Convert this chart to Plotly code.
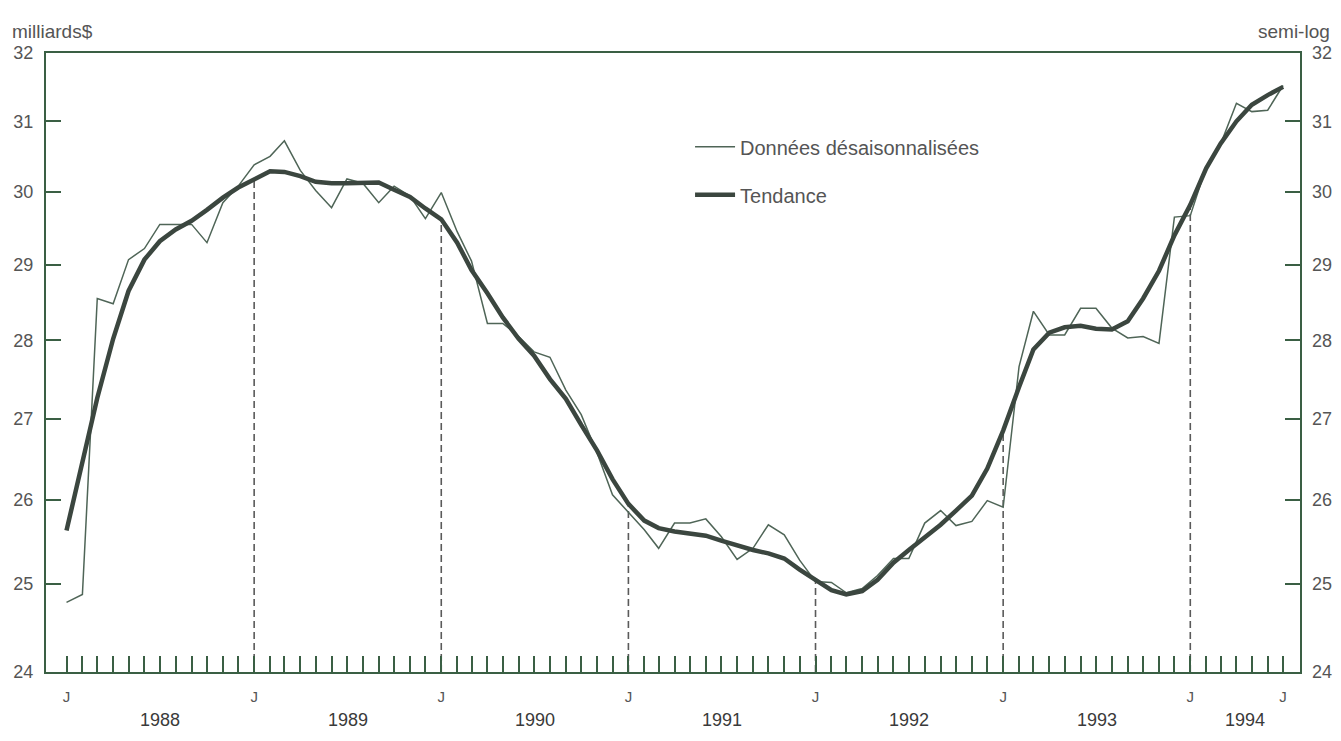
import math
import pandas as pd
import plotly.graph_objects as go

# ---------------- data (monthly, Jan 1988 - Jul 1994) ----------------
months = pd.date_range("1988-01-01", "1994-07-01", freq="MS")

raw = [24.79, 24.88, 28.55, 28.48, 29.07, 29.22, 29.55, 29.55, 29.55, 29.30, 29.85, 30.08,
       30.38, 30.50, 30.72, 30.30, 30.02, 29.78, 30.18, 30.12, 29.85, 30.08, 29.94, 29.63,
       29.99, 29.45, 29.05, 28.22, 28.22, 28.05, 27.85, 27.78, 27.36, 27.05, 26.57, 26.06,
       25.85, 25.64, 25.42, 25.72, 25.72, 25.77, 25.56, 25.29, 25.42, 25.70, 25.58, 25.28,
       25.03, 25.02, 24.90, 24.95, 25.10, 25.30, 25.30, 25.72, 25.87, 25.69, 25.74, 25.99,
       25.91, 27.66, 28.38, 28.07, 28.07, 28.42, 28.42, 28.16, 28.03, 28.05, 27.96, 29.65,
       29.67, 30.35, 30.67, 31.26, 31.14, 31.16, 31.52]

trend = [25.63, 26.44, 27.26, 28.02, 28.65, 29.07, 29.32, 29.48, 29.60, 29.75, 29.92, 30.06,
         30.18, 30.29, 30.28, 30.22, 30.14, 30.12, 30.12, 30.13, 30.13, 30.03, 29.93, 29.77,
         29.62, 29.30, 28.93, 28.62, 28.30, 28.02, 27.80, 27.50, 27.25, 26.92, 26.60, 26.25,
         25.95, 25.75, 25.66, 25.62, 25.59, 25.57, 25.51, 25.45, 25.40, 25.36, 25.30, 25.17,
         25.05, 24.93, 24.88, 24.92, 25.05, 25.25, 25.40, 25.55, 25.70, 25.87, 26.05, 26.38,
         26.85, 27.40, 27.88, 28.10, 28.17, 28.19, 28.15, 28.14, 28.25, 28.55, 28.92, 29.40,
         29.82, 30.33, 30.68, 31.00, 31.24, 31.38, 31.50]

year_labels = ["1988", "1989", "1990", "1991", "1992", "1993", "1994"]
j_tick_dates = ["1988-01-01", "1989-01-01", "1990-01-01", "1991-01-01", "1992-01-01",
                "1993-01-01", "1994-01-01", "1994-07-01"]
j_tick_text = ["J", "J", "J", "J", "J", "J", "J", "J"]
dashed_dates = ["1989-01-01", "1990-01-01", "1991-01-01", "1992-01-01", "1993-01-01", "1994-01-01"]
y_ticks = [24, 25, 26, 27, 28, 29, 30, 31, 32]
legend_names = ["Données désaisonnalisées", "Tendance"]

# ---------------- styling ----------------
X_START, X_END = "1987-11-22", "1994-08-03"
AXIS_COLOR = "#3a5f44"
TEXT_COLOR = "#555555"
RAW_COLOR = "#4f6557"
TREND_COLOR = "#3b463f"
FONT = "Liberation Sans, Arial, sans-serif"

fig = go.Figure()

# dashed reference lines from the axis floor up to the trend at each January
trend_s = pd.Series(trend, index=months)
dx, dy = [], []
for d in dashed_dates:
    ts = pd.Timestamp(d)
    dx += [ts, ts, None]
    dy += [y_ticks[0], trend_s[ts], None]
fig.add_trace(go.Scatter(x=dx, y=dy, mode="lines", showlegend=False, hoverinfo="skip",
                         line=dict(color="#5a5a5a", width=1.6, dash="7px,4px")))

fig.add_trace(go.Scatter(x=months, y=raw, mode="lines", name=legend_names[0],
                         legendgroup="a", line=dict(color=RAW_COLOR, width=1.5)))
fig.add_trace(go.Scatter(x=months, y=trend, mode="lines", name=legend_names[1],
                         legendgroup="b", line=dict(color=TREND_COLOR, width=4.5)))
# invisible trace carrying the right-hand axis
fig.add_trace(go.Scatter(x=months, y=trend, mode="lines", yaxis="y2", showlegend=False,
                         hoverinfo="skip", line=dict(width=0), opacity=0))

yr = [math.log10(y_ticks[0]), math.log10(y_ticks[-1])]

# page body keeps its default 8px margin: size the figure to fit the window exactly
fig.update_layout(
    width=1325, height=725,
    margin=dict(l=38, r=33, t=45, b=61, autoexpand=False),
    paper_bgcolor="white", plot_bgcolor="white",
    font=dict(family=FONT, color=TEXT_COLOR, size=17),
    showlegend=True,
    legend=dict(x=0.5136, y=0.88, xanchor="left", yanchor="top",
                bgcolor="rgba(0,0,0,0)", font=dict(size=20, color=TEXT_COLOR),
                tracegroupgap=19, itemwidth=40),
    xaxis=dict(type="date", range=[X_START, X_END], showgrid=False, zeroline=False,
               automargin=False,
               showline=True, linecolor=AXIS_COLOR, linewidth=2, mirror=True,
               tickmode="array", tickvals=j_tick_dates, ticktext=j_tick_text,
               ticks="inside", ticklen=16, tickwidth=1.5, tickcolor=AXIS_COLOR,
               tickfont=dict(size=15, color=TEXT_COLOR), ticklabelstandoff=10,
               minor=dict(tickmode="array", tickvals=list(months), ticks="inside",
                          ticklen=16, tickwidth=1.5, tickcolor=AXIS_COLOR)),
    yaxis=dict(type="log", range=yr, showgrid=False, zeroline=False, automargin=False,
               showline=True, linecolor=AXIS_COLOR, linewidth=2, mirror=True,
               tickmode="array", tickvals=y_ticks, ticktext=[str(v) for v in y_ticks],
               ticks="inside", ticklen=15, tickwidth=2, tickcolor=AXIS_COLOR,
               tickfont=dict(size=18, color=TEXT_COLOR), ticklabelstandoff=7),
    yaxis2=dict(type="log", range=yr, overlaying="y", side="right", showgrid=False,
                zeroline=False, showline=False, automargin=False,
                tickmode="array", tickvals=y_ticks, ticktext=[str(v) for v in y_ticks],
                ticks="inside", ticklen=15, tickwidth=2, tickcolor=AXIS_COLOR,
                tickfont=dict(size=18, color=TEXT_COLOR), ticklabelstandoff=11),
)

# year labels centred on each year's span (last year: up to the axis end)
annotations = []
for yl in year_labels:
    start = pd.Timestamp(f"{yl}-01-01")
    end = min(pd.Timestamp(f"{int(yl) + 1}-01-01"), pd.Timestamp(X_END))
    mid = start + (end - start) / 2
    annotations.append(dict(x=mid, y=-0.0775, xref="x", yref="paper", text=yl,
                            showarrow=False, xanchor="center", yanchor="middle",
                            font=dict(size=18, color="#3a3a3a", family=FONT)))
annotations.append(dict(x=-0.029, y=1.034, xref="paper", yref="paper", text="milliards$",
                        showarrow=False, xanchor="left", yanchor="middle",
                        font=dict(size=19, color=TEXT_COLOR)))
annotations.append(dict(x=1.0255, y=1.034, xref="paper", yref="paper", text="semi-log",
                        showarrow=False, xanchor="right", yanchor="middle",
                        font=dict(size=19, color=TEXT_COLOR)))
fig.update_layout(annotations=annotations)

fig.write_html("out.html")
